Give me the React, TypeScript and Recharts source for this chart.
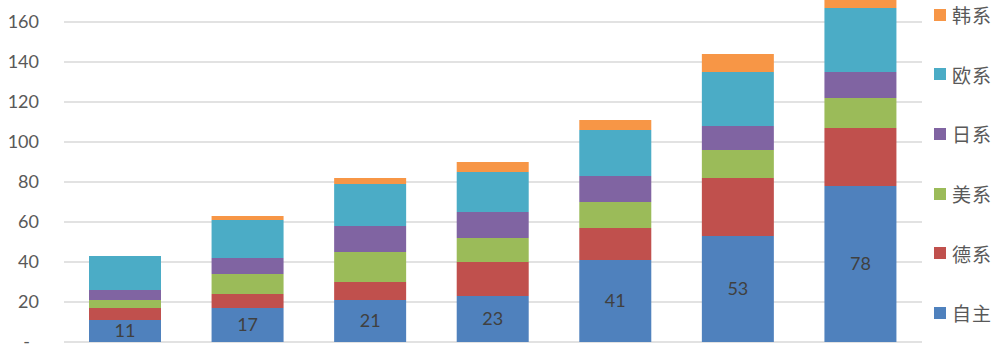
import React from 'react';
import { BarChart, Bar, XAxis, YAxis, CartesianGrid, LabelList } from 'recharts';

const categories = ['2010', '2011', '2012', '2013', '2014', '2015', '2016'];
const zizhu = [11, 17, 21, 23, 41, 53, 78];
const dexi = [6, 7, 9, 17, 16, 29, 29];
const meixi = [4, 10, 15, 12, 13, 14, 15];
const rixi = [5, 8, 13, 13, 13, 12, 13];
const ouxi = [17, 19, 21, 20, 23, 27, 32];
const hanxi = [0, 2, 3, 5, 5, 9, 6];
const yTicks = [0, 20, 40, 60, 80, 100, 120, 140, 160];

const series = [
  { key: 'zizhu', name: '自主', color: '#4F81BD', values: zizhu },
  { key: 'dexi', name: '德系', color: '#C0504D', values: dexi },
  { key: 'meixi', name: '美系', color: '#9BBB59', values: meixi },
  { key: 'rixi', name: '日系', color: '#8064A2', values: rixi },
  { key: 'ouxi', name: '欧系', color: '#4BACC6', values: ouxi },
  { key: 'hanxi', name: '韩系', color: '#F79646', values: hanxi },
];

const data = categories.map((c, i) => {
  const row: any = { name: c };
  series.forEach((s) => {
    row[s.key] = s.values[i];
  });
  return row;
});

const numFont = 'Lato, "Liberation Sans", sans-serif';

const YTick = ({ x, y, payload }: any) => {
  const isZero = payload.value === 0;
  return (
    <text
      x={isZero ? x - 9 : x}
      y={y}
      dy={6}
      textAnchor="end"
      fill="#595959"
      fontSize={18}
      fontFamily={numFont}
    >
      {isZero ? '-' : payload.value}
    </text>
  );
};

const App: React.FC = () => {
  const legendItems = [...series].reverse();
  return (
    <div style={{ position: 'absolute', left: 0, top: 0, width: 1004, height: 353, overflow: 'hidden', background: '#fff' }}>
      <div style={{ position: 'absolute', left: 0, top: -28 }}>
        <BarChart
          width={1004}
          height={381}
          data={data}
          margin={{ top: 10, right: 82, left: 0, bottom: 11 }}
          barSize={72}
        >
          <CartesianGrid vertical={false} stroke="#D9D9D9" strokeWidth={1.3} />
          <XAxis dataKey="name" hide />
          <YAxis
            width={64}
            domain={[0, 180]}
            ticks={yTicks}
            interval={0}
            axisLine={false}
            tickLine={false}
            tickSize={0}
            tickMargin={25}
            tick={<YTick />}
          />
          {series.map((s) => (
            <Bar key={s.key} dataKey={s.key} name={s.name} stackId="a" fill={s.color} isAnimationActive={false}>
              {s.key === 'zizhu' && (
                <LabelList dataKey={s.key} position="center" fill="#404040" fontSize={18} fontFamily={numFont} />
              )}
            </Bar>
          ))}
        </BarChart>
      </div>
      <div style={{ position: 'absolute', left: 934, top: 0 }}>
        {legendItems.map((s) => (
          <div
            key={s.key}
            style={{ display: 'flex', alignItems: 'center', height: 59.6, position: 'relative', top: -15 }}
          >
            <span style={{ display: 'inline-block', width: 12, height: 12, background: s.color, marginRight: 6 }} />
            <span style={{ fontFamily: '"Noto Sans CJK SC", sans-serif', fontSize: 19, color: '#595959', letterSpacing: 1 }}>
              {s.name}
            </span>
          </div>
        ))}
      </div>
    </div>
  );
};

export default App;
